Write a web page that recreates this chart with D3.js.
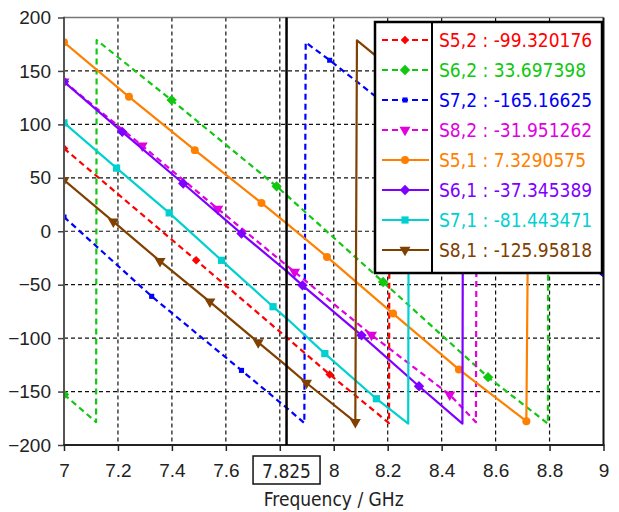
<!DOCTYPE html>
<html><head><meta charset="utf-8">
<script src="https://cdn.jsdelivr.net/npm/d3@7"></script>
<style>
html,body{margin:0;padding:0;background:#fff;}
svg{display:block;font-family:"DejaVu Sans Condensed","DejaVu Sans",sans-serif;font-stretch:condensed;}
</style></head><body>
<svg id="chart" width="619" height="512"></svg>
<script>
// Phase (deg) of the transmission terms versus frequency (GHz)
const seriesNames = ["S5,2","S6,2","S7,2","S8,2","S5,1","S6,1","S7,1","S8,1"];
const markerFreq = 7.825;
const markerValues = [-99.320176, 33.697398, -165.16625, -31.951262, 7.3290575, -37.345389, -81.443471, -125.95818];

const phaseS52 = [[7.0,77.5],[7.49,-27.2],[7.985,-134],[8.205,-179.5],[8.207,179],[9.0,12]];
const phaseS62 = [[7.0,-152.7],[7.119,-178.6],[7.121,178.9],[7.399,122.7],[7.788,42],[8.183,-47.5],[8.572,-136.5],[8.794,-180],[8.796,180],[9.0,141.5]];
const phaseS72 = [[7.0,13.4],[7.325,-60.9],[7.658,-130.2],[7.891,-179.5],[7.896,176.7],[7.985,160],[9.0,-42]];
const phaseS82 = [[7.0,140],[7.29,80],[7.57,21],[7.855,-38],[8.14,-97],[8.43,-153],[8.527,-178.6],[8.531,179],[9.0,88]];
const phaseS51 = [[7.0,176.8],[7.241,125.8],[7.485,75.9],[7.732,26.5],[7.975,-24],[8.22,-77],[8.464,-129.3],[8.714,-177.7],[8.726,178],[9.0,124]];
const phaseS61 = [[7.0,139.9],[7.216,93],[7.442,44.7],[7.658,-2.2],[7.884,-50.6],[8.103,-97.4],[8.316,-145],[8.477,-180],[8.48,178],[9.0,66]];
const phaseS71 = [[7.0,101.5],[7.195,59],[7.39,17.2],[7.584,-27.2],[7.775,-70.6],[7.967,-114.5],[8.158,-156.7],[8.276,-180],[8.279,178],[9.0,20]];
const phaseS81 = [[7.0,47.8],[7.183,9],[7.356,-28],[7.541,-66],[7.72,-104],[7.899,-142],[8.08,-178.6],[8.086,178.6],[9.0,-10]];

// frequencies carrying a symbol on each curve
const marksS52 = [7.0,7.49,7.985];
const marksS62 = [7.0,7.399,7.788,8.183,8.572];
const marksS72 = [7.0,7.325,7.658,7.985];
const marksS82 = [7.0,7.29,7.57,7.855,8.14,8.43];
const marksS51 = [7.0,7.241,7.485,7.732,7.975,8.22,8.464,8.714];
const marksS61 = [7.0,7.216,7.442,7.658,7.884,8.103,8.316];
const marksS71 = [7.0,7.195,7.39,7.584,7.775,7.967,8.158];
const marksS81 = [7.0,7.183,7.356,7.541,7.72,7.899,8.08];

const xTicks = [7,7.2,7.4,7.6,7.8,8,8.2,8.4,8.6,8.8,9];
const xTickLabels = ["7","7.2","7.4","7.6","7.8","8","8.2","8.4","8.6","8.8","9"];
const yTicks = [-200,-150,-100,-50,0,50,100,150,200];
const xTitle = "Frequency / GHz";

// styling
const colors = ["#ff0000","#10c810","#0000ff","#e000e0","#ff8000","#8000ff","#00d0d0","#804000"];
const dashed = [true,true,true,true,false,false,false,false];
const symbolKind = ["diamondS","diamond","squareS","triDown","circle","diamond","square","triDown"];

const phases = [phaseS52,phaseS62,phaseS72,phaseS82,phaseS51,phaseS61,phaseS71,phaseS81];
const marks = [marksS52,marksS62,marksS72,marksS82,marksS51,marksS61,marksS71,marksS81];

const L = 64, R = 603.5, T = 17.5, B = 445;
const x = d3.scaleLinear().domain([7,9]).range([L,R]);
const y = d3.scaleLinear().domain([-200,200]).range([B,T]);

const svg = d3.select("#chart");
const FS = 19;
const LW = 2.2;

svg.append("defs").append("clipPath").attr("id","plotclip")
  .append("rect").attr("x",L).attr("y",T).attr("width",R-L).attr("height",B-T);

// grid
const grid = svg.append("g");
grid.selectAll("line.vg").data(xTicks.filter(d=>d>7&&d<9)).join("line")
  .attr("x1",d=>x(d)).attr("x2",d=>x(d)).attr("y1",T).attr("y2",B)
  .attr("stroke","#111").attr("stroke-width",1.2).attr("stroke-dasharray","4,3");
grid.selectAll("line.hg").data(yTicks.filter(d=>d>-200&&d<200)).join("line")
  .attr("x1",L).attr("x2",R).attr("y1",d=>y(d)).attr("y2",d=>y(d))
  .attr("stroke","#111").attr("stroke-width",1.2).attr("stroke-dasharray","4,3");

// symbols
function rhombus(r){ return `M0,${-r}L${r},0L0,${r}L${-r},0Z`; }
function symbolPath(kind){
  switch(kind){
    case "circle": return d3.symbol().type(d3.symbolCircle).size(50)();
    case "diamond": return rhombus(5.2);
    case "diamondS": return rhombus(4.3);
    case "square": return d3.symbol().type(d3.symbolSquare).size(52)();
    case "squareS": return d3.symbol().type(d3.symbolSquare).size(26)();
    case "triDown": return d3.symbol().type(d3.symbolTriangle).size(52)();
  }
}
function symbolRot(kind){ return kind==="triDown" ? " rotate(180)" : ""; }

// curves
const plot = svg.append("g").attr("clip-path","url(#plotclip)");
const line = d3.line().x(d=>x(d[0])).y(d=>y(d[1]));
phases.forEach((pts,i)=>{
  const all = pts.concat([[markerFreq, markerValues[i]]]).sort((a,b)=>a[0]-b[0]);
  plot.append("path").datum(all).attr("d",line)
    .attr("fill","none").attr("stroke",colors[i]).attr("stroke-width",LW)
    .attr("stroke-linejoin","round")
    .attr("stroke-dasharray",dashed[i]?"6,4":null);
  const mk = marks[i].map(f=>all.find(p=>Math.abs(p[0]-f)<1e-9));
  plot.selectAll(null).data(mk).join("path")
    .attr("d",symbolPath(symbolKind[i]))
    .attr("transform",d=>`translate(${x(d[0])},${y(d[1])})${symbolRot(symbolKind[i])}`)
    .attr("fill",colors[i]);
});

// frame and axes
svg.append("line").attr("x1",L).attr("x2",R).attr("y1",T).attr("y2",T).attr("stroke","#777").attr("stroke-width",1.5);
svg.append("line").attr("x1",R).attr("x2",R).attr("y1",T).attr("y2",B).attr("stroke","#111").attr("stroke-width",2);
svg.append("line").attr("x1",L).attr("x2",L).attr("y1",T-0.75).attr("y2",B+1).attr("stroke","#555").attr("stroke-width",2);
svg.append("line").attr("x1",L-1).attr("x2",R+1).attr("y1",B).attr("y2",B).attr("stroke","#222").attr("stroke-width",2);

const yAxis = d3.axisLeft(y).tickValues(yTicks).tickSize(6).tickPadding(7).tickFormat(d3.format("d"));
const gy = svg.append("g").attr("transform",`translate(${L},0)`).call(yAxis);
gy.select(".domain").remove();
gy.selectAll(".tick line").attr("stroke","#444").attr("stroke-width",1.5);
gy.selectAll(".tick text").attr("font-size",FS).attr("fill","#222").attr("font-family",null);

const xAxis = d3.axisBottom(x).tickValues(xTicks).tickSize(6).tickPadding(13)
  .tickFormat((d,i)=>Math.abs(d-7.8)<1e-9 ? "" : xTickLabels[i]);
const gx = svg.append("g").attr("transform",`translate(0,${B})`).call(xAxis);
gx.select(".domain").remove();
gx.selectAll(".tick line").attr("stroke","#222").attr("stroke-width",1.5);
gx.selectAll(".tick text").attr("font-size",FS).attr("fill","#222").attr("font-family",null);

// frequency marker
svg.append("line").attr("x1",x(markerFreq)).attr("x2",x(markerFreq)).attr("y1",T).attr("y2",B)
  .attr("stroke","#000").attr("stroke-width",2.5);
const mlab = svg.append("g");
mlab.append("rect").attr("x",x(markerFreq)-33.5).attr("y",456).attr("width",67).attr("height",28)
  .attr("fill","#fff").attr("stroke","#111").attr("stroke-width",1.5);
mlab.append("text").attr("x",x(markerFreq)).attr("y",477.5).attr("text-anchor","middle")
  .attr("font-size",FS).attr("fill","#222").text(String(markerFreq));

svg.append("text").attr("x",(L+R)/2).attr("y",506).attr("text-anchor","middle")
  .attr("font-size",FS).attr("fill","#222").text(xTitle);

// legend
const lg = svg.append("g");
const lx = 375, ly = 22, lw = 227, lh = 251, div = 432;
lg.append("rect").attr("x",lx).attr("y",ly).attr("width",lw).attr("height",lh)
  .attr("fill","#fff").attr("stroke","#000").attr("stroke-width",2.5);
lg.append("line").attr("x1",div).attr("x2",div).attr("y1",ly).attr("y2",ly+lh).attr("stroke","#000").attr("stroke-width",2);
seriesNames.forEach((name,i)=>{
  const cy = 40 + i*30;
  lg.append("line").attr("x1",382).attr("x2",429).attr("y1",cy).attr("y2",cy)
    .attr("stroke",colors[i]).attr("stroke-width",LW).attr("stroke-dasharray",dashed[i]?"6,4":null);
  lg.append("path").attr("d",symbolPath(symbolKind[i]))
    .attr("transform",`translate(405,${cy})${symbolRot(symbolKind[i])}`).attr("fill",colors[i]);
  lg.append("text").attr("x",439).attr("y",cy).attr("dy","0.36em")
    .attr("font-size",FS).attr("fill",colors[i])
    .text(`${name} : ${markerValues[i]}`);
});
</script>
</body></html>
